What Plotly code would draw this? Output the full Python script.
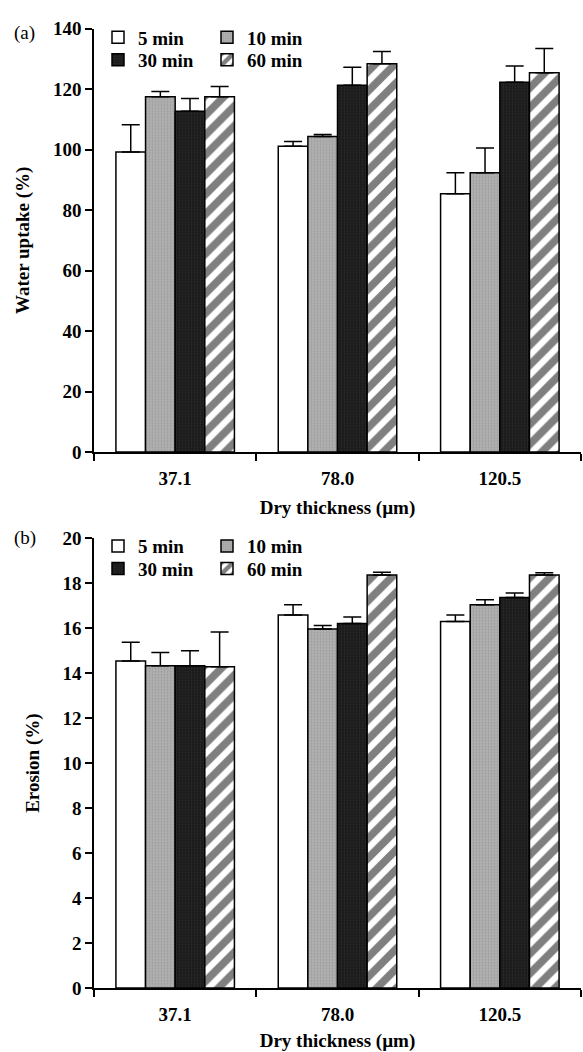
import plotly.graph_objects as go

categories = ["37.1", "78.0", "120.5"]
series_names = ["5 min", "10 min", "30 min", "60 min"]

# Panel (a): water uptake (%)
uptake_5 = [99.2, 101.1, 85.4]
uptake_10 = [117.5, 104.3, 92.3]
uptake_30 = [112.7, 121.3, 122.3]
uptake_60 = [117.5, 128.4, 125.4]
uptake_err_5 = [9.0, 1.6, 6.9]
uptake_err_10 = [1.7, 0.7, 8.2]
uptake_err_30 = [4.2, 5.9, 5.3]
uptake_err_60 = [3.4, 4.0, 8.0]

# Panel (b): erosion (%)
erosion_5 = [14.54, 16.59, 16.3]
erosion_10 = [14.33, 15.96, 17.04]
erosion_30 = [14.33, 16.21, 17.36]
erosion_60 = [14.29, 18.37, 18.37]
erosion_err_5 = [0.84, 0.45, 0.29]
erosion_err_10 = [0.59, 0.16, 0.23]
erosion_err_30 = [0.67, 0.29, 0.21]
erosion_err_60 = [1.54, 0.12, 0.1]

FONT = "Liberation Serif, Times New Roman, serif"
styles = [
    dict(color="white"),
    dict(color="#a4a4a4", pattern=dict(shape=".", fgcolor="#8a8a8a", bgcolor="#b0b0b0", size=3, solidity=0.3)),
    dict(color="#1f1f1f", pattern=dict(shape=".", fgcolor="#3a3a3a", bgcolor="#1a1a1a", size=3, solidity=0.3)),
    dict(color="white", pattern=dict(shape="/", fgcolor="black", bgcolor="white", size=14, solidity=0.55)),
]

fig = go.Figure()

panel_a = [(uptake_5, uptake_err_5), (uptake_10, uptake_err_10),
           (uptake_30, uptake_err_30), (uptake_60, uptake_err_60)]
panel_b = [(erosion_5, erosion_err_5), (erosion_10, erosion_err_10),
           (erosion_30, erosion_err_30), (erosion_60, erosion_err_60)]

legend_ids_a = ["legend", "legend", "legend2", "legend2"]
legend_ids_b = ["legend3", "legend3", "legend4", "legend4"]

for i, (vals, errs) in enumerate(panel_a):
    fig.add_trace(go.Bar(
        x=categories, y=vals, name=series_names[i],
        marker=dict(**styles[i], line=dict(color="black", width=1.5)),
        error_y=dict(type="data", array=errs, arrayminus=[0] * len(errs), symmetric=False,
                     color="black", thickness=1.5, width=9),
        xaxis="x", yaxis="y", legend=legend_ids_a[i], offsetgroup=str(i),
    ))
for i, (vals, errs) in enumerate(panel_b):
    fig.add_trace(go.Bar(
        x=categories, y=vals, name=series_names[i],
        marker=dict(**styles[i], line=dict(color="black", width=1.5)),
        error_y=dict(type="data", array=errs, arrayminus=[0] * len(errs), symmetric=False,
                     color="black", thickness=1.5, width=9),
        xaxis="x2", yaxis="y2", legend=legend_ids_b[i], offsetgroup=str(i),
    ))

W, H = 583, 1052
tickfont = dict(family=FONT, size=19, color="black", weight="bold")
titlefont = dict(family=FONT, size=19, color="black", weight="bold")

xdom = [94 / W, 581 / W]
ydom_a = [1 - 451 / H, 1 - 19 / H]
ydom_b = [1 - 998 / H, 1 - 539 / H]

xcommon = dict(type="category", showline=True, linecolor="black", linewidth=1.5,
               ticks="outside", tickson="boundaries", ticklen=7, tickwidth=1.5,
               tickcolor="black", tickfont=tickfont, showgrid=False, zeroline=False,
               range=[-0.5, 2.5], domain=xdom, ticklabelstandoff=8,
               title=dict(text="Dry thickness (\u00b5m)", font=titlefont, standoff=13))
ycommon = dict(showline=True, linecolor="black", linewidth=1.5, ticks="outside",
               ticklen=7, tickwidth=1.5, tickcolor="black", tickfont=tickfont,
               showgrid=False, zeroline=False)

legend_common = dict(orientation="h", font=dict(family=FONT, size=19, color="black", weight="bold"),
                     bgcolor="rgba(0,0,0,0)", xanchor="left", yanchor="middle",
                     entrywidth=64, itemwidth=30, tracegroupgap=0)

fig.update_layout(
    width=W, height=H, margin=dict(l=0, r=0, t=0, b=0),
    paper_bgcolor="white", plot_bgcolor="white",
    barmode="group", bargap=0.27, bargroupgap=0,
    xaxis=dict(**xcommon, anchor="y"),
    yaxis=dict(**ycommon, domain=ydom_a, range=[0, 140], dtick=20, anchor="x",
               title=dict(text="Water uptake (%)", font=titlefont, standoff=18)),
    xaxis2=dict(**xcommon, anchor="y2"),
    yaxis2=dict(**ycommon, domain=ydom_b, range=[0, 20], dtick=2, anchor="x2",
                title=dict(text="Erosion (%)", font=titlefont, standoff=18)),
    legend=dict(**legend_common, x=98 / W, y=1 - 28 / H),
    legend2=dict(**legend_common, x=98 / W, y=1 - 51 / H),
    legend3=dict(**legend_common, x=98 / W, y=1 - 547 / H),
    legend4=dict(**legend_common, x=98 / W, y=1 - 570 / H),
    annotations=[
        dict(text="(a)", x=12 / W, y=1 - 23 / H, xref="paper", yref="paper",
             xanchor="left", yanchor="middle", showarrow=False,
             font=dict(family=FONT, size=19, color="black")),
        dict(text="(b)", x=12 / W, y=1 - 539 / H, xref="paper", yref="paper",
             xanchor="left", yanchor="middle", showarrow=False,
             font=dict(family=FONT, size=19, color="black")),
    ],
)

fig.write_html("out.html")
